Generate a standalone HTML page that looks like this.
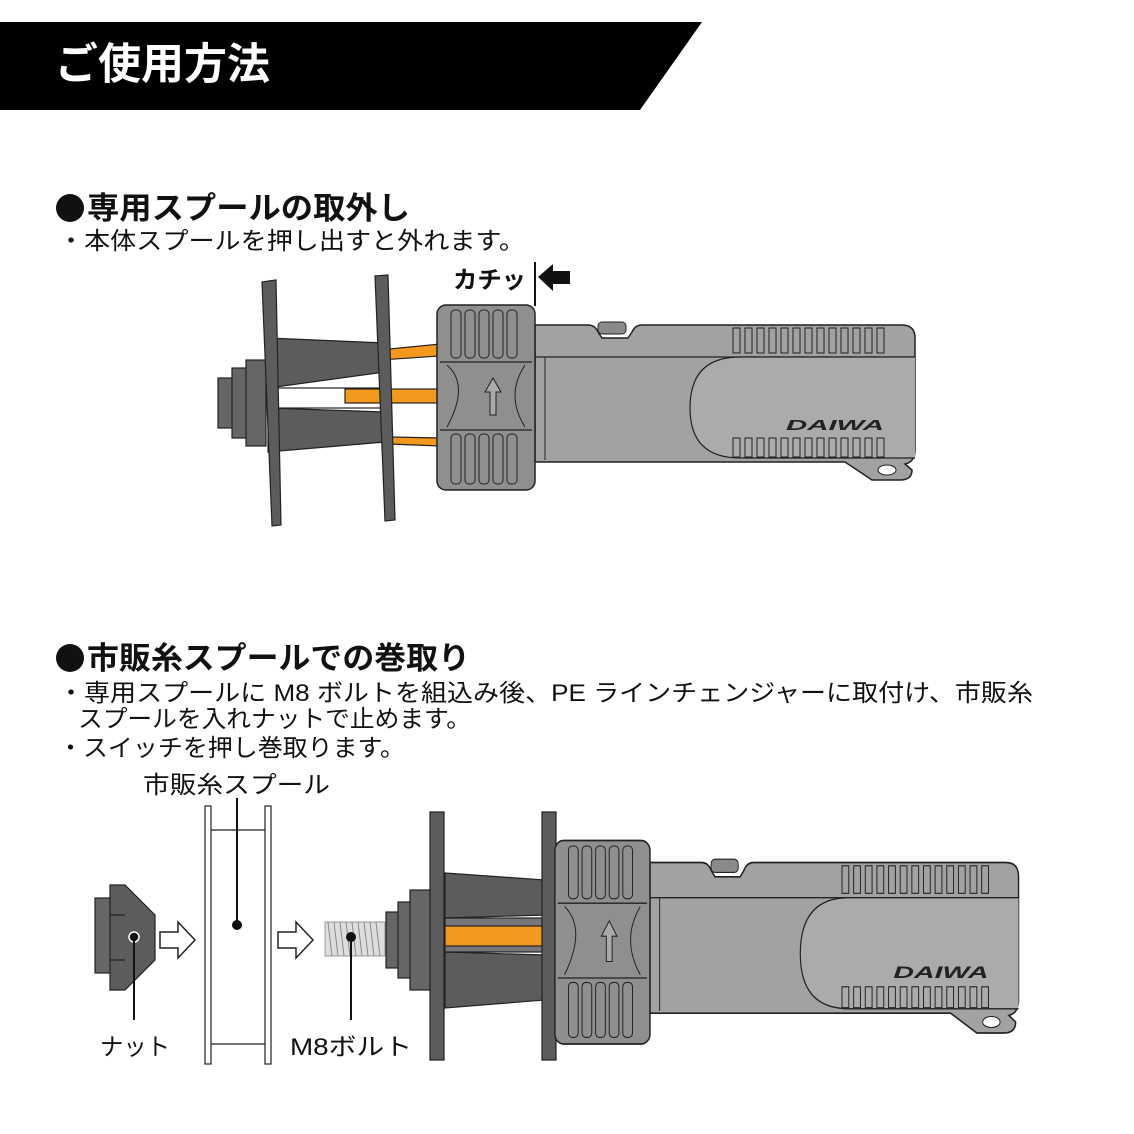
<!DOCTYPE html>
<html><head><meta charset="utf-8"><style>
html,body{margin:0;padding:0;background:#fff;}
svg{display:block;}
text{font-family:"Liberation Sans","Noto Sans CJK JP",sans-serif;}
</style></head><body>
<svg width="1134" height="1134" viewBox="0 0 1134 1134" xmlns="http://www.w3.org/2000/svg">
<defs>
<g id="dev">
  <path d="M535,325 L588,325 Q595,325 598,332 L602,338 L628,338 L632,332 Q635,325 642,325 L902,325 Q915,325 915,338 L915,450 Q915,462 905,464 L912,470 Q912,480 900,480 L872,480 L845,462 L535,462 Z" fill="#a2a2a2" stroke="#222" stroke-width="1.5"/>
  <rect x="598" y="322" width="28" height="12" rx="4" fill="#8a8a8a" stroke="#222"/>
  <path d="M535,357 L915,357" stroke="#222" stroke-width="1.2"/>
  <path d="M545,357 L545,460" stroke="#222" stroke-width="1"/>
  <path d="M915,357 L740,357 Q690,357 690,408 Q690,458 740,458 L915,458" fill="#ababab" stroke="#222" stroke-width="1.2"/>
  <g fill="none" stroke="#222" stroke-width="1">
    <rect x="733" y="328" width="7" height="25"/><rect x="745" y="328" width="7" height="25"/><rect x="757" y="328" width="7" height="25"/><rect x="769" y="328" width="7" height="25"/><rect x="781" y="328" width="7" height="25"/><rect x="793" y="328" width="7" height="25"/><rect x="805" y="328" width="7" height="25"/><rect x="817" y="328" width="7" height="25"/><rect x="829" y="328" width="7" height="25"/><rect x="841" y="328" width="7" height="25"/><rect x="853" y="328" width="7" height="25"/><rect x="865" y="328" width="7" height="25"/><rect x="877" y="328" width="7" height="25"/>
    <rect x="733" y="438" width="7" height="19"/><rect x="745" y="438" width="7" height="19"/><rect x="757" y="438" width="7" height="19"/><rect x="769" y="438" width="7" height="19"/><rect x="781" y="438" width="7" height="19"/><rect x="793" y="438" width="7" height="19"/><rect x="805" y="438" width="7" height="19"/><rect x="817" y="438" width="7" height="19"/><rect x="829" y="438" width="7" height="19"/><rect x="841" y="438" width="7" height="19"/><rect x="853" y="438" width="7" height="19"/><rect x="865" y="438" width="7" height="19"/><rect x="877" y="438" width="7" height="19"/>
  </g>
  <ellipse cx="887" cy="470" rx="9" ry="5" fill="#fff" stroke="#222"/>
  <text x="786" y="430" font-size="15" font-weight="bold" font-style="italic" fill="#222" textLength="98" lengthAdjust="spacingAndGlyphs">DAIWA</text>
  <rect x="437" y="305" width="98" height="185" rx="9" fill="#8f8f8f" stroke="#222" stroke-width="1.5"/>
  <path d="M440,362 L532,362 M440,430 L532,430" stroke="#222" stroke-width="1.2"/>
  <path d="M447,365 Q470,385 447,427 M525,365 Q505,395 525,427" fill="none" stroke="#222"/>
  <g fill="none" stroke="#222" stroke-width="1">
    <rect x="451" y="310" width="10" height="48" rx="4"/><rect x="465" y="310" width="10" height="48" rx="4"/><rect x="479" y="310" width="10" height="48" rx="4"/><rect x="493" y="310" width="10" height="48" rx="4"/><rect x="507" y="310" width="10" height="48" rx="4"/>
    <rect x="451" y="434" width="10" height="50" rx="4"/><rect x="465" y="434" width="10" height="50" rx="4"/><rect x="479" y="434" width="10" height="50" rx="4"/><rect x="493" y="434" width="10" height="50" rx="4"/><rect x="507" y="434" width="10" height="50" rx="4"/>
  </g>
  <path d="M490,415 L490,392 L485,392 L493,378 L501,392 L496,392 L496,415 Z" fill="#aaa" stroke="#222"/>
</g>
</defs>

<polygon points="0,22 702,22 640,110 0,110" fill="#000"/>
<text x="55" y="79" font-size="43" font-weight="bold" fill="#fff" textLength="215" lengthAdjust="spacingAndGlyphs">ご使用方法</text>

<circle cx="70" cy="208" r="14" fill="#111"/>
<text x="87" y="219" font-size="31" font-weight="bold" fill="#111" textLength="323" lengthAdjust="spacingAndGlyphs">専用スプールの取外し</text>
<text x="58" y="249" font-size="24" fill="#111" textLength="467" lengthAdjust="spacingAndGlyphs">・本体スプールを押し出すと外れます。</text>

<text x="453" y="288" font-size="24" font-weight="bold" fill="#111" textLength="73" lengthAdjust="spacingAndGlyphs">カチッ</text>
<path d="M535,262 L535,306" stroke="#111" stroke-width="2"/>
<polygon points="538,277 553,264 553,271 570,271 570,284 553,284 553,291" fill="#111"/>

<g stroke="#222" stroke-width="1.2">
  <rect x="218" y="378" width="16" height="50" fill="#666"/>
  <rect x="232" y="368" width="16" height="70" fill="#666"/>
  <rect x="246" y="360" width="20" height="86" fill="#666"/>
  <polygon points="268,338 385,343 385,372 268,388" fill="#5c5c5c"/>
  <polygon points="268,408 385,412 385,442 268,452" fill="#5c5c5c"/>
  <rect x="268" y="388" width="117" height="20" fill="#fff"/>
  <polygon points="380,350 440,344 440,356 380,360" fill="#f39a1e"/>
  <rect x="345" y="389" width="95" height="14" fill="#f39a1e"/>
  <polygon points="390,437 440,438 440,446 390,444" fill="#f39a1e"/>
  <polygon points="262,282 276,280 281,525 272,526" fill="#5c5c5c"/>
  <polygon points="375,276 388,275 395,520 385,521" fill="#5c5c5c"/>
</g>
<use href="#dev"/>

<circle cx="70" cy="658" r="14" fill="#111"/>
<text x="87" y="669" font-size="31" font-weight="bold" fill="#111" textLength="383" lengthAdjust="spacingAndGlyphs">市販糸スプールでの巻取り</text>
<text x="58" y="701" font-size="24" fill="#111" textLength="975" lengthAdjust="spacingAndGlyphs">・専用スプールに M8 ボルトを組込み後、PE ラインチェンジャーに取付け、市販糸</text>
<text x="78" y="727" font-size="24" fill="#111" textLength="393" lengthAdjust="spacingAndGlyphs">スプールを入れナットで止めます。</text>
<text x="58" y="756" font-size="24" fill="#111" textLength="347" lengthAdjust="spacingAndGlyphs">・スイッチを押し巻取ります。</text>
<text x="143" y="793" font-size="24" fill="#111" textLength="187" lengthAdjust="spacingAndGlyphs">市販糸スプール</text>

<g stroke="#222" stroke-width="1.2">
  <rect x="95" y="898" width="18" height="75" fill="#666"/>
  <polygon points="110,885 125,885 155,915 155,960 125,990 110,990" fill="#5c5c5c"/>
  <path d="M110,915 L125,915 M110,960 L125,960"/>
</g>
<circle cx="134" cy="937" r="5" fill="#111" stroke="#fff" stroke-width="1.5"/>
<path d="M134,940 L134,1020" stroke="#111" stroke-width="2"/>
<text x="100" y="1055" font-size="24" fill="#111" textLength="70" lengthAdjust="spacingAndGlyphs">ナット</text>
<polygon points="160,932 178,932 178,922 195,940 178,958 178,948 160,948" fill="#fff" stroke="#222" stroke-width="1.5"/>
<polygon points="278,932 296,932 296,922 313,940 296,958 296,948 278,948" fill="#fff" stroke="#222" stroke-width="1.5"/>
<g fill="#fff" stroke="#222" stroke-width="1.2">
  <rect x="205" y="806" width="6" height="258"/>
  <rect x="265" y="806" width="6" height="258"/>
  <path d="M211,830 L265,830 M211,1044 L265,1044"/>
</g>
<path d="M237,798 L237,922" stroke="#111" stroke-width="2"/>
<circle cx="237" cy="925" r="5" fill="#111"/>
<rect x="325" y="922" width="60" height="34" fill="#ddd" stroke="#999"/>
<path d="M328,922 l4,34 M334,922 l4,34 M340,922 l4,34 M346,922 l4,34 M352,922 l4,34 M358,922 l4,34 M364,922 l4,34 M370,922 l4,34 M376,922 l4,34" stroke="#888" stroke-width="1"/>
<circle cx="351" cy="937" r="5" fill="#111"/>
<path d="M351,940 L351,1020" stroke="#111" stroke-width="2"/>
<text x="290" y="1055" font-size="24" fill="#111" textLength="122" lengthAdjust="spacingAndGlyphs">M8ボルト</text>

<g stroke="#222" stroke-width="1.2">
  <rect x="386" y="912" width="14" height="56" fill="#666"/>
  <rect x="398" y="902" width="14" height="76" fill="#666"/>
  <rect x="410" y="890" width="22" height="100" fill="#666"/>
  <polygon points="445,873 545,880 545,915 445,918" fill="#5c5c5c"/>
  <polygon points="445,952 545,955 545,1000 445,1008" fill="#5c5c5c"/>
  <rect x="445" y="918" width="100" height="34" fill="#777"/>
  <rect x="445" y="926" width="105" height="20" fill="#f39a1e"/>
  <rect x="430" y="812" width="14" height="248" fill="#5c5c5c"/>
  <rect x="542" y="812" width="14" height="248" fill="#5c5c5c"/>
</g>
<use href="#dev" transform="translate(131,505) scale(0.97,1.1)"/>
</svg>
</body></html>
